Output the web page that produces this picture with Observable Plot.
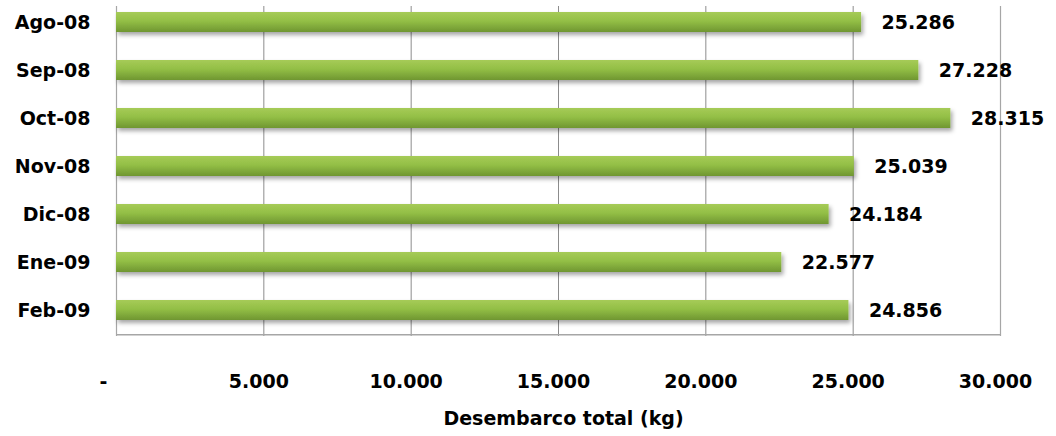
<!DOCTYPE html>
<html><head><meta charset="utf-8">
<script src="https://cdn.jsdelivr.net/npm/d3@7"></script>
<script src="https://cdn.jsdelivr.net/npm/@observablehq/plot@0.6"></script>
<style>body{margin:0;background:#fff;} svg{display:block;}</style>
</head><body><div id="chart"></div>
<script>
const categories = ["Ago-08","Sep-08","Oct-08","Nov-08","Dic-08","Ene-09","Feb-09"];
const values = [25286, 27228, 28315, 25039, 24184, 22577, 24856];
const valueLabels = ["25.286","27.228","28.315","25.039","24.184","22.577","24.856"];
const tickValues = [0, 5000, 10000, 15000, 20000, 25000, 30000];
const tickLabels = ["-", "5.000", "10.000", "15.000", "20.000", "25.000", "30.000"];
const axisTitle = "Desembarco total (kg)";

const data = categories.map((c, i) => ({cat: c, value: values[i], label: valueLabels[i]}));
const ticks = tickValues.map((v, i) => ({v, label: tickLabels[i]}));
const font = "DejaVu Sans";
const txt = {fontSize: 19, fontWeight: "bold", fill: "#000"};

const chart = Plot.plot({
  width: 1056, height: 436,
  marginLeft: 116, marginRight: 56, marginTop: 6, marginBottom: 100,
  style: {fontFamily: font, background: "#fff", overflow: "visible"},
  x: {domain: [0, 30000], axis: null},
  y: {domain: categories, range: [-4, 336], paddingInner: 0.59, paddingOuter: 0.295, axis: null},
  marks: [
    Plot.ruleX(tickValues.slice(1, -1), {stroke: "#8c8c8c", strokeWidth: 1}),
    Plot.ruleX([0, 30000], {stroke: "#a6a6a6", strokeWidth: 1.2}),
    Plot.ruleY([categories[categories.length - 1]], {y: d => d, dy: 24.3, x1: 0, x2: 30000, stroke: "#a6a6a6", strokeWidth: 1.5}),
    Plot.barX(data, {x: "value", y: "cat", fill: "url(#barGrad)", className: "bars"}),
    Plot.text(data, {x: "value", y: "cat", text: "label", textAnchor: "start", dx: 20, ...txt}),
    Plot.text(categories, {x: 0, y: d => d, text: d => d, textAnchor: "end", dx: -26, ...txt}),
    Plot.text(ticks.slice(0, 1), {x: "v", text: "label", frameAnchor: "bottom", lineAnchor: "middle", dy: 45, dx: -13, ...txt}),
    Plot.text(ticks.slice(1), {x: "v", text: "label", frameAnchor: "bottom", lineAnchor: "middle", dy: 45, dx: -5, ...txt}),
    Plot.text([axisTitle], {frameAnchor: "bottom", lineAnchor: "middle", dy: 82, dx: 5, text: d => d, ...txt})
  ]
});

const svg = d3.select(chart);
const defs = svg.insert("defs", ":first-child");
const g = defs.append("linearGradient").attr("id", "barGrad").attr("x1", 0).attr("y1", 0).attr("x2", 0).attr("y2", 1);
g.append("stop").attr("offset", "0%").attr("stop-color", "#a6cb57");
g.append("stop").attr("offset", "45%").attr("stop-color", "#93bf46");
g.append("stop").attr("offset", "100%").attr("stop-color", "#6f9631");
const f = defs.append("filter").attr("id", "shadow").attr("x", "-5%").attr("y", "-30%").attr("width", "110%").attr("height", "180%");
f.append("feDropShadow").attr("dx", 2).attr("dy", 3).attr("stdDeviation", 2).attr("flood-color", "#000").attr("flood-opacity", 0.35);
svg.selectAll("g.bars").attr("filter", "url(#shadow)");
document.getElementById("chart").appendChild(chart);
</script>
</body></html>
